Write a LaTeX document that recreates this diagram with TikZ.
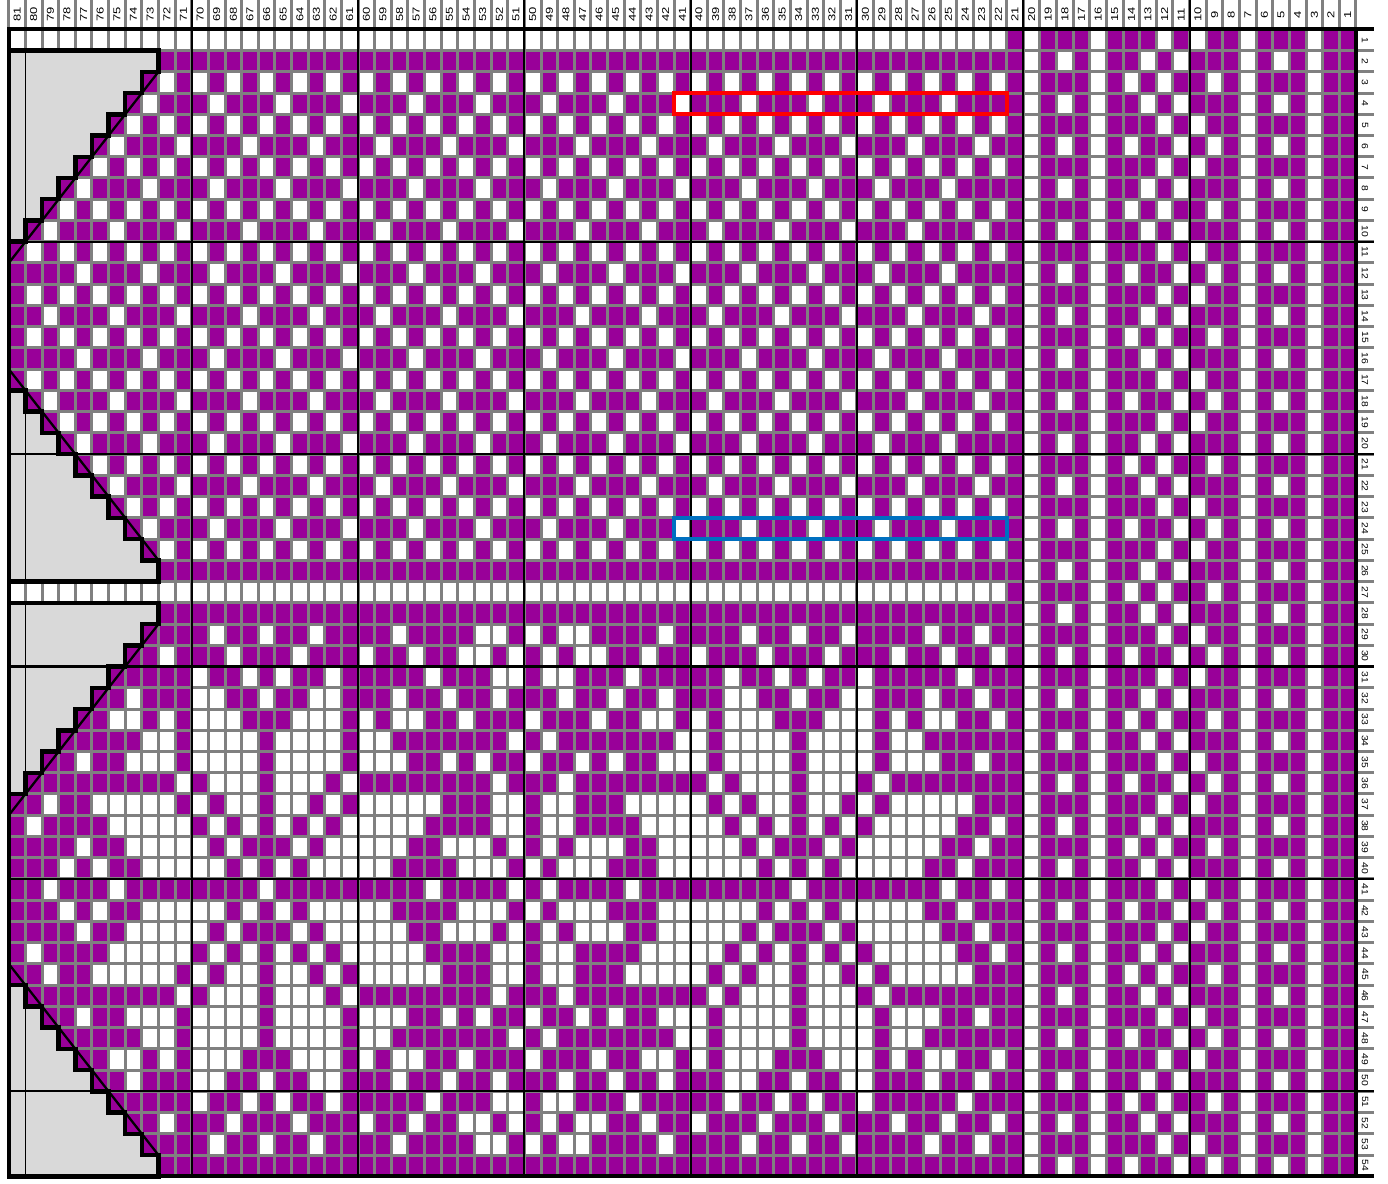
\documentclass[tikz,border=0pt]{standalone}
\usepackage{fontspec}
\setmainfont{Liberation Sans}
\usetikzlibrary{calc}
\definecolor{knit}{HTML}{990099}
\definecolor{shade}{HTML}{D9D9D9}
\definecolor{gridln}{HTML}{808080}
\definecolor{markred}{HTML}{FF0000}
\definecolor{markblue}{HTML}{0070C0}
\tikzset{
  gridline/.style={draw=gridln, line width=3pt},
  tenline/.style={draw=black, line width=2.2pt},
  frameline/.style={draw=black, line width=4pt},
  stair/.style={draw=black, line width=4.5pt, fill=shade, line join=miter},
  slash/.style={draw=black, line width=2.3pt},
  edgeline/.style={draw=black, line width=1.2pt},
  markbox/.style={line width=4pt},
  collbl/.style={rotate=90, font=\fontsize{10}{12}\selectfont, inner sep=0pt},
  rowlbl/.style={rotate=-90, font=\fontsize{9}{11}\selectfont, inner sep=0pt}
}
% one white stitch: column #1 (81..1), row #2 (1..54)
\newcommand{\wcell}[2]{\fill[white] (81-#1,#2-1) rectangle ++(1,1);}
% a row of the lower motif, columns 81 down to 21 (o = white, x = purple, | = nothing)
\newcommand{\motifrow}[2]{\def\motifr{#1}\def\motifc{81}\motifscan#2\relax}
\def\motifscan#1{%
  \ifx\relax#1\else
    \if o#1\wcell{\motifc}{\motifr}\fi
    \if |#1\else\pgfmathtruncatemacro{\motifc}{\motifc-1}\fi
    \expandafter\motifscan
  \fi}
\newcommand{\risestair}{(0,1) -- (9,1) -- (9,2) -- (8,2) -- (8,3) -- (7,3) -- (7,4) -- (6,4) -- (6,5) -- (5,5) -- (5,6) -- (4,6) -- (4,7) -- (3,7) -- (3,8) -- (2,8) -- (2,9) -- (1,9) -- (1,10) -- (0,10) -- cycle}
\newcommand{\fallstair}{(0,17) -- (1,17) -- (1,18) -- (2,18) -- (2,19) -- (3,19) -- (3,20) -- (4,20) -- (4,21) -- (5,21) -- (5,22) -- (6,22) -- (6,23) -- (7,23) -- (7,24) -- (8,24) -- (8,25) -- (9,25) -- (9,26) -- (0,26) -- cycle}

\begin{document}
\begin{tikzpicture}[x=16.63pt, y=-21.24pt]
  \useasboundingbox (-0.53,-1.38) rectangle (82.93,54.36);
  \fill[white] (-0.53,-1.38) rectangle (82.93,54.36);

  % purple ground
  \fill[knit] (0,0) rectangle (81,54);

  % plain rows
  \fill[white] (0,0) rectangle (60,1);
  \fill[white] (0,26) rectangle (60,27);

  % upper lattice, rows 3-25
  \foreach \r in {3,5,...,25} \foreach \c in {22,24,...,80} {\wcell{\c}{\r}}
  \foreach \r in {4,8,...,24} \foreach \c in {25,29,...,77} {\wcell{\c}{\r}}
  \foreach \r in {6,10,...,22} \foreach \c in {23,27,...,79} {\wcell{\c}{\r}}

  % lower motif, rows 29-41 and mirrored down to 53
  \foreach \r/\s in {
    29/xxxxxxxxxxx|xoxxoxxoxx|xxoxxxxoox|oxooxxxxox|xxxoxxoxxo|xxxxoxxoxx,
    30/xxxxxxxxxox|xxoxxxoxxx|oxxoxxooxo|xoxooxxoxx|oxxxoxxxox|xxoxxoxxox,
    31/xxxxxxxxxxx|oxxoxoxxox|xxxxoxxxoo|xooxxxoxxx|xxoxxoxoxx|oxxxxxoxxx,
    32/xxxxxxxoxxx|ooxxoxxoox|xxoxxoxxox|xxoxxoxxox|xxooxxoxxo|oxxxoxxoxx,
    33/xxxxxxooxox|oooxxxooox|oxooxxoxxx|oxxxoxxoox|oxoooxxxoo|oxoxooxxox,
    34/xxxxxxxxoox|ooooxoooox|ooxxxxxxxo|xoxxxxxxxo|oxooooxooo|oxooxxxxxx,
    35/xxxxoxxooox|ooooxoooox|oooxxoxoxx|oxxoxoxxoo|oxooooxooo|oxoooxxoxx,
    36/xxxxxxxxxxo|xoooxoooxo|xxxxxxxxox|xxoxxxxxxx|xoxoooxooo|xoxxxxxxxx,
    37/xxoxxooooox|oxooxooxox|oooooxxxoo|xooxxxoooo|oxoxooxoox|oxoooooxxx,
    38/xoxxxxooooo|xoxoxoxoxo|ooooxxxxoo|xooxxxxooo|ooxoxoxoxo|xoooooxxox,
    39/xxxxoxxoooo|oxoxxxoxoo|oooxxoooxo|xoxoooxxoo|oooxoxxxox|oooooxxoxx,
    40/xxxoxoxxooo|ooxoxoxooo|ooxxxxooox|oxoooxxxoo|ooooxoxoxo|ooooxxoxxx,
    41/xxoxxxoxxxx|xxxxoxxxxx|xxxxoxxxxo|xoxxxxoxxx|xxxxxxoxxx|xxxxxoxxox} {
    \edef\motifnext{\noexpand\motifrow{\r}{\s}}\motifnext
    \pgfmathtruncatemacro{\rr}{82-\r}
    \edef\motifnext{\noexpand\motifrow{\rr}{\s}}\motifnext
  }

  % border panel, columns 20-1
  \foreach \c in {20,16,7,3} {\fill[white] (81-\c,0) rectangle ++(1,54);}
  \foreach \r in {2,4,...,54} {\wcell{18}{\r}\wcell{5}{\r}}
  \foreach \r in {1,...,54} {
    \pgfmathtruncatemacro{\m}{mod(\r,6)}
    \ifcase\m \wcell{14}{\r}\wcell{11}{\r}\wcell{9}{\r}
    \or \wcell{12}{\r}\wcell{10}{\r}
    \or \wcell{13}{\r}\wcell{11}{\r}
    \or \wcell{14}{\r}\wcell{12}{\r}\wcell{9}{\r}
    \or \wcell{13}{\r}\wcell{11}{\r}
    \or \wcell{12}{\r}\wcell{10}{\r}
    \fi
  }

  % grid
  \foreach \i in {0,...,81} {\draw[gridline] (\i,-1.38) -- (\i,54);}
  \foreach \j in {0,...,54} {\draw[gridline] (0,\j) -- (82.1,\j);}

  % shaping
  \path[fill=shade] \risestair;
  \path[fill=shade] \fallstair;
  \begin{scope}[shift={(0,26)}]
    \path[fill=shade] \risestair;
  \end{scope}
  \begin{scope}[shift={(0,28)}]
    \path[fill=shade] \fallstair;
  \end{scope}
  \draw[edgeline] (1,1) -- (1,10);
  \draw[edgeline] (1,17) -- (1,26);
  \draw[edgeline] (1,27) -- (1,36);
  \draw[edgeline] (1,45) -- (1,54);
  \draw[slash] (0,11) -- (9,2);
  \draw[slash] (0,16) -- (9,25);
  \draw[slash] (0,37) -- (9,28);
  \draw[slash] (0,44) -- (9,53);

  % every tenth stitch and row
  \foreach \i in {11,21,...,71} {\draw[tenline] (\i,-1.38) -- (\i,54);}
  \foreach \j in {10,20,...,50} {\draw[tenline] (0,\j) -- (82.1,\j);}

  \path[stair, fill=none] \risestair;
  \path[stair, fill=none] \fallstair;
  \begin{scope}[shift={(0,26)}]
    \path[stair, fill=none] \risestair;
  \end{scope}
  \begin{scope}[shift={(0,28)}]
    \path[stair, fill=none] \fallstair;
  \end{scope}

  % marked rows
  \draw[markbox, draw=markred] (40,3) rectangle (60,4);
  \draw[markbox, draw=markblue] (40,23) rectangle (60,24);

  % frame
  \draw[frameline] (0,0) -- (82.1,0);
  \draw[frameline] (0,54) -- (82.1,54);
  \draw[frameline] (0,-0.09) -- (0,54.09);
  \draw[frameline] (81,0) -- (81,54);

  % numbers
  \foreach \c in {1,...,81} {\node[collbl] (c\c) at (81.5-\c,-0.69) {\scalebox{1.3}[1]{\c}};}
  \foreach \r in {1,...,54} {\node[rowlbl] (r\r) at (81.55,\r-0.5) {\scalebox{1.15}[1]{\r}};}
\end{tikzpicture}
\end{document}
